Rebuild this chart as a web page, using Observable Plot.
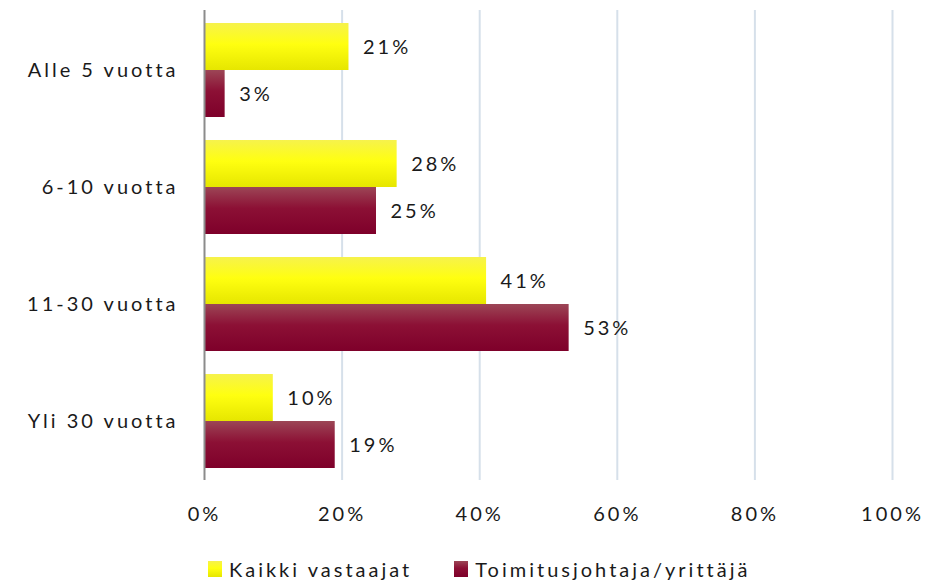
<!DOCTYPE html>
<html><head><meta charset="utf-8">
<script src="https://cdn.jsdelivr.net/npm/d3@7"></script>
<script src="https://cdn.jsdelivr.net/npm/@observablehq/plot@0.6"></script>
<style>
body{margin:0;background:#fff;font-family:"Lato","Open Sans",sans-serif;}
#legend{display:flex;gap:0;margin-left:208px;margin-top:22px;font-size:20px;letter-spacing:3px;color:#1a1a1a;align-items:center}
.item{display:flex;align-items:center;margin-right:42px}
.sw{width:14px;height:16px;margin-right:7px}
</style></head><body>
<div id="chart"></div>
<div id="legend"></div>
<script>
const categories = ["Alle 5 vuotta","6-10 vuotta","11-30 vuotta","Yli 30 vuotta"];
const series = ["Kaikki vastaajat","Toimitusjohtaja/yrittäjä"];
const kaikki = [0.21,0.28,0.41,0.10];
const toimitus = [0.03,0.25,0.53,0.19];
const ticks = [0,0.2,0.4,0.6,0.8,1.0];

const dataA = categories.map((c,i)=>({cat:c, v:kaikki[i]}));
const dataB = categories.map((c,i)=>({cat:c, v:toimitus[i]}));
const half = 47;

const fmt = d3.format(".0%");
const plot = Plot.plot({
  width:948, height:535,
  marginLeft:204, marginRight:56, marginTop:10, marginBottom:55,
  style:{fontFamily:"Lato, 'Open Sans', sans-serif", fontSize:"20px", color:"#1a1a1a", letterSpacing:"3px"},
  x:{domain:[0,1], ticks:ticks, tickFormat:fmt, tickSize:0, tickPadding:26, label:null},
  y:{domain:categories, paddingInner:0.2, paddingOuter:0.1, tickSize:0, tickPadding:26, label:null},
  marks:[
    Plot.gridX(ticks.slice(1), {stroke:"#d6e0ea", strokeOpacity:1, strokeWidth:2}),
    Plot.barX(dataA, {x:"v", y:"cat", fill:"url(#gradY)", insetBottom:half}),
    Plot.barX(dataB, {x:"v", y:"cat", fill:"url(#gradM)", insetTop:half}),
    Plot.ruleX([0], {stroke:"#8c8c8c", strokeWidth:2}),
    Plot.text(dataA, {x:"v", y:"cat", text:d=>fmt(d.v), dy:-23, dx:14, textAnchor:"start", fontSize:20, fill:"#1a1a1a"}),
    Plot.text(dataB, {x:"v", y:"cat", text:d=>fmt(d.v), dy:24, dx:14, textAnchor:"start", fontSize:20, fill:"#1a1a1a"})
  ]
});
const defs = `<defs>
<linearGradient id="gradY" x1="0" y1="0" x2="0" y2="1">
<stop offset="0" stop-color="#f6f24c"/><stop offset="0.45" stop-color="#ffff10"/><stop offset="1" stop-color="#e6e600"/></linearGradient>
<linearGradient id="gradM" x1="0" y1="0" x2="0" y2="1">
<stop offset="0" stop-color="#9c4656"/><stop offset="0.45" stop-color="#8c1035"/><stop offset="1" stop-color="#7e002a"/></linearGradient>
</defs>`;
plot.insertAdjacentHTML("afterbegin", defs);
document.getElementById("chart").appendChild(plot);

const lg = document.getElementById("legend");
const grads = ["linear-gradient(#f6f24c,#ffff10 45%,#e6e600)","linear-gradient(#9c4656,#8c1035 45%,#7e002a)"];
series.forEach((s,i)=>{
  const it=document.createElement("div");it.className="item";
  const sw=document.createElement("div");sw.className="sw";sw.style.background=grads[i];
  const t=document.createElement("span");t.textContent=s;
  it.appendChild(sw);it.appendChild(t);lg.appendChild(it);
});
</script>
</body></html>
